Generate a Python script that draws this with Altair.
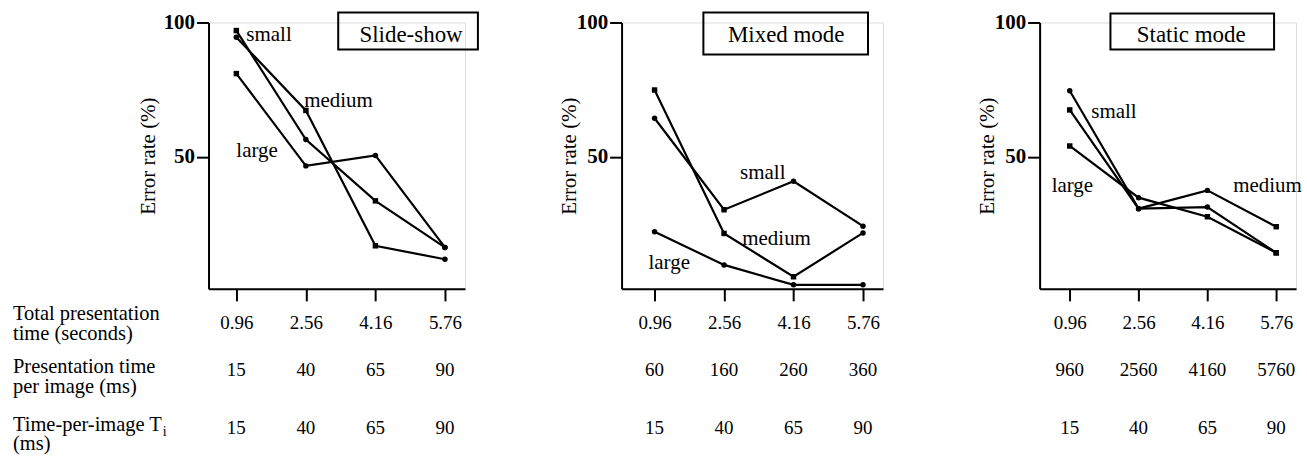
import altair as alt
import pandas as pd

# ---------------- data ----------------
x_vals = [0.96, 2.56, 4.16, 5.76]
panel_titles = ["Slide-show", "Mixed mode", "Static mode"]
series_names = ["small", "medium", "large"]

# Slide-show
slide_small = [97, 56.5, 33.7, 16.4]
slide_medium = [94.5, 67.3, 17, 12]
slide_large = [81, 46.7, 50.6, 16.4]
slide_small_shape = ["square", "circle", "square", "circle"]
slide_medium_shape = ["circle", "square", "square", "circle"]
slide_large_shape = ["square", "circle", "circle", "circle"]

# Mixed mode
mixed_small = [64.4, 30.4, 41, 24.3]
mixed_medium = [74.9, 21.6, 5.5, 21.8]
mixed_large = [22.2, 9.9, 2.5, 2.5]
mixed_small_shape = ["circle", "square", "circle", "circle"]
mixed_medium_shape = ["square", "square", "square", "circle"]
mixed_large_shape = ["circle", "circle", "circle", "circle"]

# Static mode
static_small = [74.6, 30.8, 31.4, 14.4]
static_medium = [67.5, 30.8, 37.6, 24.1]
static_large = [54.1, 34.9, 27.8, 14.4]
static_small_shape = ["circle", "circle", "circle", "square"]
static_medium_shape = ["square", "circle", "circle", "square"]
static_large_shape = ["square", "circle", "square", "square"]

# second and third rows of tick labels
row2_labels = [["15", "40", "65", "90"],
               ["60", "160", "260", "360"],
               ["960", "2560", "4160", "5760"]]
row3_labels = [["15", "40", "65", "90"]] * 3

# in-plot series labels (x in seconds, y in %)
label_text = [["small", "medium", "large"],
              ["small", "medium", "large"],
              ["small", "medium", "large"]]
label_x = [[1.19, 2.52, 0.96], [2.93, 2.98, 0.82], [1.46, 4.76, 0.54]]
label_y = [[95.5, 70.7, 52.2], [43.9, 19.7, 10.5], [66.9, 39.2, 39.2]]

desc_lines = [["Total presentation", "time (seconds)"],
              ["Presentation time", "per image (ms)"],
              ["Time-per-image T", "(ms)"]]

# ---------------- layout (styles) ----------------
SERIF = "Liberation Serif, Times New Roman, serif"
widths = [257, 262, 257]
x_domains = [[0.32, 6.22], [0.20, 6.22], [0.26, 6.22]]
title_pads = [5, -3, -3]
H = 267
box_geo = [  # x, x2, y, y2, text x, text y
    (130, 270, -10, 27, 203, 20),
    (82, 247, -10, 32, 165, 20),
    (71, 235, -9, 27, 152, 20),
]

series_vals = [
    [(slide_small, slide_small_shape), (slide_medium, slide_medium_shape), (slide_large, slide_large_shape)],
    [(mixed_small, mixed_small_shape), (mixed_medium, mixed_medium_shape), (mixed_large, mixed_large_shape)],
    [(static_small, static_small_shape), (static_medium, static_medium_shape), (static_large, static_large_shape)],
]


def make_panel(i):
    rows = []
    for name, (vals, shapes) in zip(series_names, series_vals[i]):
        for t, v, s in zip(x_vals, vals, shapes):
            rows.append({"t": t, "err": v, "series": name, "shape": s})
    df = pd.DataFrame(rows)

    xscale = alt.Scale(domain=x_domains[i], nice=False, zero=False)
    yscale = alt.Scale(domain=[1, 100], nice=False, zero=False)

    xaxis = alt.Axis(values=x_vals, labelExpr="format(datum.value, '.2f')", title=None,
                     grid=False, tickSize=12, tickWidth=2, tickColor="black",
                     domainWidth=2, domainColor="black", labelFont=SERIF,
                     labelFontSize=19, labelColor="black", labelBaseline="alphabetic",
                     labelPadding=28, labelFlush=False)
    yaxis = alt.Axis(values=[50, 100], title="Error rate (%)", grid=False, tickSize=12,
                     tickWidth=2, tickColor="black", domainWidth=2, domainColor="black",
                     labelFont=SERIF, labelFontSize=21, labelFontWeight="bold",
                     labelColor="black", labelPadding=2, titleFont=SERIF,
                     titleFontSize=21, titleFontWeight="normal", titleColor="black",
                     titlePadding=title_pads[i])

    base = alt.Chart(df)
    lines = base.mark_line(color="black", strokeWidth=2.2).encode(
        x=alt.X("t:Q", scale=xscale, axis=xaxis),
        y=alt.Y("err:Q", scale=yscale, axis=yaxis),
        detail="series:N",
    )
    pts = base.mark_point(filled=True, color="black", size=30, opacity=1).encode(
        x=alt.X("t:Q", scale=xscale),
        y=alt.Y("err:Q", scale=yscale),
        shape=alt.Shape("shape:N", scale=None),
    )

    lab_df = pd.DataFrame({"lab": label_text[i], "lx": label_x[i], "ly": label_y[i]})
    labs = alt.Chart(lab_df).mark_text(font=SERIF, fontSize=21, align="left",
                                       baseline="middle", color="black").encode(
        x=alt.X("lx:Q", scale=xscale), y=alt.Y("ly:Q", scale=yscale), text="lab:N")

    r2 = pd.DataFrame({"t": x_vals, "lab": row2_labels[i]})
    r3 = pd.DataFrame({"t": x_vals, "lab": row3_labels[i]})
    row2 = alt.Chart(r2).mark_text(font=SERIF, fontSize=19, baseline="alphabetic",
                                   color="black").encode(
        x=alt.X("t:Q", scale=xscale), y=alt.value(354), text="lab:N")
    row3 = alt.Chart(r3).mark_text(font=SERIF, fontSize=19, baseline="alphabetic",
                                   color="black").encode(
        x=alt.X("t:Q", scale=xscale), y=alt.value(412), text="lab:N")

    bx, bx2, by, by2, tx, ty = box_geo[i]
    one = pd.DataFrame({"title": [panel_titles[i]]})
    box = alt.Chart(one).mark_rect(fillOpacity=0, stroke="black", strokeWidth=2).encode(
        x=alt.value(bx), x2=alt.value(bx2), y=alt.value(by), y2=alt.value(by2))
    btxt = alt.Chart(one).mark_text(font=SERIF, fontSize=23, baseline="alphabetic",
                                    align="center", color="black").encode(
        x=alt.value(tx), y=alt.value(ty), text="title:N")

    layers = [lines, pts, labs, row2, row3, box, btxt]

    if i == 0:
        for k, (l1, l2) in enumerate(desc_lines):
            yb = [298, 351, 409][k]
            d = pd.DataFrame({"txt": [l1 + "\n" + l2]})
            layers.append(alt.Chart(d).mark_text(font=SERIF, fontSize=20.5, align="left",
                                                 baseline="alphabetic", lineBreak="\n",
                                                 lineHeight=20, color="black").encode(
                x=alt.value(-196), y=alt.value(yb), text="txt:N"))
        sub = pd.DataFrame({"txt": ["i"]})
        layers.append(alt.Chart(sub).mark_text(font=SERIF, fontSize=14, align="left",
                                               baseline="alphabetic", color="black").encode(
            x=alt.value(-46), y=alt.value(414), text="txt:N"))

    return alt.layer(*layers).properties(width=widths[i], height=H)


chart = alt.hconcat(make_panel(0), make_panel(1), make_panel(2), spacing=157,
                    bounds="flush").properties(
    padding={"left": 12, "top": 10, "right": 4, "bottom": 1}
).configure_view(stroke=None).configure(background="white")

chart.save("out.html", embed_options={"renderer": "svg", "actions": False})
